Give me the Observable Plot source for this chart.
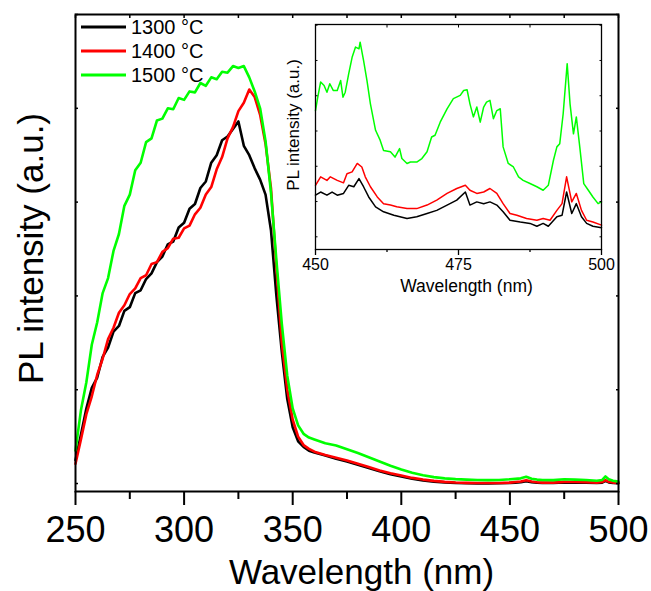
<!DOCTYPE html>
<html>
<head>
<meta charset="utf-8">
<script src="https://cdn.jsdelivr.net/npm/d3@7"></script>
<script src="https://cdn.jsdelivr.net/npm/@observablehq/plot@0.6"></script>
<style>
  html, body { margin: 0; padding: 0; background: #fff; }
  #wrap { position: relative; width: 651px; height: 591px; overflow: hidden; }
  #wrap svg { display: block; }
  #inset { position: absolute; left: 270px; top: 18px; }
</style>
</head>
<body>
<div id="wrap"><div id="main"></div><div id="inset"></div></div>
<script>
// ---------- data ----------
const seriesNames = ["1300 °C", "1400 °C", "1500 °C"];
const seriesColors = ["#000000", "#ff0000", "#00ff00"];

const xLabel = "Wavelength (nm)";
const yLabel = "PL intensity (a.u.)";

const mainMajorTicks = [250, 300, 350, 400, 450, 500];
const mainMinorTicks = [275, 325, 375, 425, 475];
const mainTopTicks = [250, 275, 300, 325, 350, 375, 400, 425, 450, 475, 500];
const mainYTicks = [0, 1, 2, 3, 4, 5];

const insetMajorTicks = [450, 475, 500];
const insetMinorTicks = [462.5, 487.5];
const insetTopTicks = [450, 462.5, 475, 487.5, 500];
const insetYTicks = [0, 1, 2, 3, 4, 5, 6];

const mainWavelength = [
  250, 252.5, 255, 257.5, 260, 262.5, 265, 267.5, 270, 272.5, 275, 277.5, 280, 282.5, 285, 287.5,
  290, 292.5, 295, 297.5, 300, 302.5, 305, 307.5, 310, 312.5, 315, 317.5, 320, 322.5, 325, 327.5,
  330, 332.5, 335, 337.5, 340, 342.5, 345, 347.5, 350,
  352.5, 355, 357.5, 360, 365, 370, 375, 380, 385, 390, 395, 400, 405, 410, 415, 420, 425, 430,
  435, 440, 445, 450, 452.5, 455, 457.5, 460, 462.5, 465, 470, 475, 480, 485, 490, 492.5, 494,
  495.5, 497.5, 500
];

const mainPL1300 = [
  0.25, 0.52, 0.80, 1.02, 1.13, 1.35, 1.45, 1.62, 1.68, 1.84, 1.88, 2.03, 2.06, 2.18, 2.24, 2.36,
  2.42, 2.55, 2.58, 2.73, 2.78, 2.93, 2.98, 3.15, 3.22, 3.42, 3.50, 3.66, 3.70, 3.78, 3.86, 3.60,
  3.50, 3.36, 3.24, 3.08, 2.70, 2.00, 1.40, 0.90, 0.60,
  0.45, 0.39, 0.35, 0.33, 0.30, 0.265, 0.235, 0.20, 0.165, 0.13, 0.10, 0.075, 0.05, 0.032, 0.02,
  0.012, 0.006, 0.003, 0.002, 0.002, 0.003, 0.006, 0.01, 0.014, 0.024, 0.014, 0.008, 0.006, 0.006,
  0.012, 0.01, 0.008, 0.005, 0.01, 0.028, 0.012, 0.006, 0.003
];

const mainPL1400 = [
  0.21, 0.47, 0.74, 0.93, 1.16, 1.33, 1.54, 1.66, 1.82, 1.90, 2.02, 2.08, 2.19, 2.22, 2.34, 2.36,
  2.47, 2.51, 2.61, 2.62, 2.72, 2.75, 2.87, 2.94, 3.08, 3.16, 3.35, 3.48, 3.68, 3.80, 3.97, 4.06,
  4.20, 4.12, 3.93, 3.62, 3.15, 2.30, 1.50, 1.00, 0.68,
  0.50, 0.41, 0.37, 0.34, 0.305, 0.275, 0.245, 0.21, 0.175, 0.14, 0.11, 0.085, 0.06, 0.042, 0.028,
  0.018, 0.011, 0.007, 0.005, 0.005, 0.006, 0.01, 0.016, 0.022, 0.036, 0.022, 0.014, 0.01, 0.01,
  0.018, 0.016, 0.013, 0.01, 0.016, 0.036, 0.018, 0.01, 0.006
];

const mainPL1500 = [
  0.35, 0.78, 1.08, 1.48, 1.72, 2.03, 2.19, 2.48, 2.66, 2.96, 3.08, 3.34, 3.42, 3.64, 3.68, 3.87,
  3.89, 4.00, 3.99, 4.11, 4.09, 4.18, 4.17, 4.27, 4.24, 4.33, 4.31, 4.39, 4.38, 4.45, 4.43, 4.45,
  4.33, 4.18, 4.00, 3.65, 3.10, 2.38, 1.70, 1.15, 0.80,
  0.62, 0.53, 0.49, 0.47, 0.43, 0.405, 0.365, 0.325, 0.28, 0.235, 0.19, 0.15, 0.115, 0.088, 0.068,
  0.055, 0.047, 0.042, 0.038, 0.036, 0.038, 0.045, 0.05, 0.055, 0.072, 0.05, 0.042, 0.038, 0.036,
  0.045, 0.042, 0.038, 0.03, 0.038, 0.075, 0.045, 0.03, 0.02
];

const insetWl1300 = [450, 450.9, 452, 452.9, 453.8, 454.9, 455.8, 456.7, 457.6, 458.4, 459.3, 460.5,
  461.9, 463.7, 466, 467.7, 469.5, 471.2, 473, 474.7, 476.2, 477, 478.2, 479.4, 480.5, 481.7, 482.8,
  484, 485.8, 487.5, 488.7, 489.8, 490.7, 492.2, 493.1, 493.9, 494.8, 495.6, 496.5, 497.4, 498.5, 500];
const insetPL1300 = [1.18, 1.27, 1.18, 1.27, 1.18, 1.23, 1.46, 1.42, 1.65, 1.42, 1.13, 0.85,
  0.71, 0.61, 0.52, 0.57, 0.66, 0.75, 0.90, 1.04, 1.27, 0.90, 0.99, 0.94, 0.99, 0.90, 0.71,
  0.47, 0.42, 0.38, 0.30, 0.38, 0.30, 0.57, 0.61, 1.27, 0.66, 0.94, 0.57, 0.38, 0.30, 0.26];

const insetWl1400 = [450, 450.9, 452, 452.6, 453.8, 454.9, 455.5, 456.4, 457.3, 458.1, 458.7, 459.6,
  460.8, 461.9, 463.1, 464.2, 466, 467.7, 469.5, 471.2, 473, 474.7, 476.2, 477, 478.2, 479.4, 480.5,
  481.7, 482.8, 484, 485.2, 486.9, 488.7, 489.8, 491, 492.2, 493.1, 493.9, 494.8, 495.6, 496.5,
  497.4, 498.5, 500];
const insetPL1400 = [1.46, 1.70, 1.60, 1.70, 1.60, 1.53, 1.79, 1.84, 2.08, 1.98, 1.70, 1.42,
  1.13, 0.94, 0.90, 0.85, 0.80, 0.80, 0.90, 1.04, 1.23, 1.37, 1.46, 1.32, 1.23, 1.27, 1.37,
  1.23, 0.94, 0.66, 0.61, 0.52, 0.47, 0.52, 0.47, 0.75, 0.94, 1.70, 0.99, 1.23, 0.75,
  0.47, 0.42, 0.33];

const insetWl1500 = [450, 450.4, 450.9, 451.5, 452, 452.5, 453.1, 453.8, 454.4, 454.8, 455.2, 455.8,
  456.4, 457, 457.6, 457.8, 458.4, 459, 459.6, 460.5, 461.3, 461.9, 463.1, 463.9, 464.7, 465.1, 466,
  466.6, 467.7, 468.6, 469.5, 470.3, 470.9, 471.8, 473, 474.1, 475.3, 475.9, 476.5, 477, 477.6, 478.2,
  478.8, 479.4, 479.9, 480.5, 481.1, 481.7, 482.3, 482.8, 483.7, 484.6, 485.5, 486.3, 487.5, 488.7,
  489.8, 490.7, 491.6, 492.2, 492.7, 493.3, 494, 494.5, 495.1, 495.6, 496.2, 496.9, 497.7, 498.5,
  499.4, 500];
const insetPL1500 = [3.58, 3.96, 4.39, 4.29, 4.10, 4.34, 4.15, 4.15, 4.43, 3.96, 4.10, 4.62,
  5.09, 5.38, 5.33, 5.52, 5.0, 4.43, 3.77, 3.02, 2.74, 2.45, 2.41, 2.26, 2.50, 2.22, 2.08,
  2.12, 2.12, 2.22, 2.41, 2.83, 2.88, 3.25, 3.63, 3.92, 4.01, 4.15, 4.17, 3.77, 3.40, 3.68,
  3.25, 3.68, 3.82, 3.87, 3.35, 3.58, 3.63, 2.55, 2.08, 1.98, 1.70, 1.60, 1.51, 1.42,
  1.32, 1.46, 2.17, 2.55, 2.64, 3.49, 4.91, 3.77, 2.92, 3.40, 2.55, 1.51, 1.32, 1.13,
  0.94, 0.99];

// ---------- tables ----------
const mainSeries = [mainPL1300, mainPL1400, mainPL1500];
const mainData = seriesNames.flatMap((name, s) =>
  mainWavelength.map((w, i) => ({series: name, wavelength: w, intensity: mainSeries[s][i]})));

const insetWls = [insetWl1300, insetWl1400, insetWl1500];
const insetPLs = [insetPL1300, insetPL1400, insetPL1500];
const insetData = seriesNames.flatMap((name, s) =>
  insetWls[s].map((w, i) => ({series: name, wavelength: w, intensity: insetPLs[s][i]})));

const font = "'Liberation Sans', Arial, Helvetica, sans-serif";
const blank = () => "";

// ---------- main chart ----------
const main = Plot.plot({
  width: 651, height: 591,
  marginLeft: 75, marginRight: 33, marginTop: 14, marginBottom: 100,
  style: {fontFamily: font, background: "white", color: "black", overflow: "visible"},
  x: {domain: [250, 500]},
  y: {domain: [-0.085, 5]},
  color: {domain: seriesNames, range: seriesColors},
  marks: [
    Plot.lineY(mainData, {x: "wavelength", y: "intensity", z: "series", stroke: "series",
      strokeWidth: 2.6, strokeLinejoin: "round"}),
    Plot.frame({stroke: "black", strokeWidth: 2}),
    Plot.axisX(mainMajorTicks, {anchor: "bottom", tickSize: 14, tickPadding: 11, fontSize: 36,
      strokeWidth: 2, label: null, tickFormat: d => String(d)}),
    Plot.axisX(mainMinorTicks, {anchor: "bottom", tickSize: 8, strokeWidth: 2, label: null, tickFormat: blank}),
    Plot.axisX(mainTopTicks, {anchor: "top", tickSize: -3, strokeWidth: 1.5, label: null, tickFormat: blank}),
    Plot.axisY(mainYTicks, {anchor: "left", tickSize: -3, strokeWidth: 1.5, label: null, tickFormat: blank}),
    Plot.axisY(mainYTicks, {anchor: "right", tickSize: -3, strokeWidth: 1.5, label: null, tickFormat: blank}),
    Plot.text([xLabel], {text: d => d, frameAnchor: "bottom", dx: 14.5, dy: 81, fontSize: 35,
      lineAnchor: "middle", textAnchor: "middle", fill: "black"}),
    Plot.text([yLabel], {text: d => d, frameAnchor: "left", rotate: -90, dx: -44, dy: -4.5, fontSize: 35,
      lineAnchor: "middle", textAnchor: "middle", fill: "black"})
  ]
});
document.getElementById("main").appendChild(main);

// legend (top-left, inside the frame)
const lg = d3.select(main).append("g").attr("class", "legend").attr("text-anchor", "start");
seriesNames.forEach((name, i) => {
  const yy = 27 + i * 24;
  lg.append("line").attr("x1", 81).attr("x2", 126).attr("y1", yy).attr("y2", yy)
    .attr("stroke", seriesColors[i]).attr("stroke-width", 3.2);
  lg.append("text").attr("x", 131).attr("y", yy).attr("dy", "0.35em")
    .attr("text-anchor", "start")
    .attr("font-family", font).attr("font-size", 20).attr("fill", "black").text(name);
});

// ---------- inset ----------
const inset = Plot.plot({
  width: 347, height: 276,
  marginLeft: 45, marginRight: 16, marginTop: 6, marginBottom: 45,
  style: {fontFamily: font, background: "transparent", color: "black", overflow: "visible"},
  x: {domain: [450, 500]},
  y: {domain: [-0.36, 6.02]},
  color: {domain: seriesNames, range: seriesColors},
  marks: [
    Plot.lineY(insetData, {x: "wavelength", y: "intensity", z: "series", stroke: "series",
      strokeWidth: 1.5, strokeLinejoin: "round"}),
    Plot.frame({stroke: "black", strokeWidth: 1.3}),
    Plot.axisX(insetMajorTicks, {anchor: "bottom", tickSize: 6, tickPadding: 3, fontSize: 16,
      strokeWidth: 1.3, label: null, tickFormat: d => String(d)}),
    Plot.axisX(insetMinorTicks, {anchor: "bottom", tickSize: 3, strokeWidth: 1.3, label: null, tickFormat: blank}),
    Plot.axisX(insetTopTicks, {anchor: "top", tickSize: -2.5, strokeWidth: 1, label: null, tickFormat: blank}),
    Plot.axisY(insetYTicks, {anchor: "left", tickSize: -2.5, strokeWidth: 1, label: null, tickFormat: blank}),
    Plot.axisY(insetYTicks, {anchor: "right", tickSize: -2.5, strokeWidth: 1, label: null, tickFormat: blank}),
    Plot.text([xLabel], {text: d => d, frameAnchor: "bottom", dx: 8, dy: 37, fontSize: 17.5,
      lineAnchor: "middle", textAnchor: "middle", fill: "black"}),
    Plot.text([yLabel], {text: d => d, frameAnchor: "left", rotate: -90, dx: -21.5, dy: -12, fontSize: 17,
      lineAnchor: "middle", textAnchor: "middle", fill: "black"})
  ]
});
document.getElementById("inset").appendChild(inset);
</script>
</body>
</html>
